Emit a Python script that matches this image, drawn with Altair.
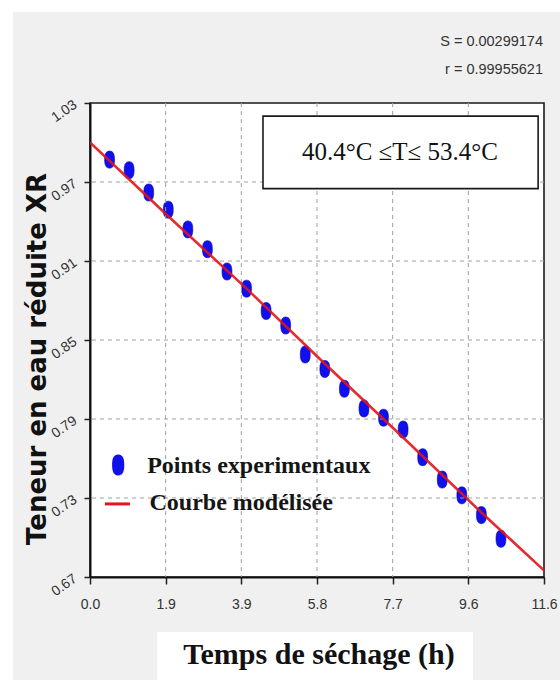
import altair as alt
import pandas as pd

# ---------------- data ----------------
t_exp = [0.5, 1.0, 1.5, 2.0, 2.5, 3.0, 3.5, 4.0, 4.5, 5.0, 5.5,
         6.0, 6.5, 7.0, 7.5, 8.0, 8.5, 9.0, 9.5, 10.0, 10.5]
xr_exp = [0.987, 0.979, 0.962, 0.949, 0.934, 0.919, 0.902, 0.889, 0.872, 0.861, 0.839,
          0.828, 0.813, 0.798, 0.791, 0.782, 0.761, 0.744, 0.732, 0.717, 0.699]

t_model = [0.0, 2.0, 4.0, 6.0, 8.0, 10.0, 11.6]
xr_model = [1.000, 0.944, 0.889, 0.832, 0.776, 0.719, 0.675]

x_major_labels = ["0.0", "1.9", "3.9", "5.8", "7.7", "9.6", "11.6"]
x_grid = [1.9333, 3.8667, 5.8, 7.7333, 9.6667]
y_grid = [0.73, 0.79, 0.85, 0.91, 0.97]
stats_lines = ["S = 0.00299174", "r = 0.99955621"]
range_label = "40.4°C ≤T≤ 53.4°C"
legend_labels = ["Points experimentaux", "Courbe modélisée"]
x_title = "Temps de séchage (h)"
y_title = "Teneur en eau réduite XR"

# annotation box / legend anchor positions (data units)
box_t = [4.42, 11.45]
box_v = [1.020, 0.965]
range_pos = [7.92, 0.9928]
legend_dot = [0.72, 0.755]
legend_line_t = [0.38, 1.02]
legend_line_v = 0.7255
legend_text_t = [1.46, 1.52]
legend_text_v = [0.7545, 0.7262]

X_MAX = 11.6
Y_MIN, Y_MAX = 0.67, 1.03
W, H = 454, 474

x_ticks = [round(i * X_MAX / 24, 4) for i in range(25)]
y_ticks = [round(Y_MIN + i * 0.015, 3) for i in range(25)]

xs = alt.Scale(domain=[0, X_MAX], nice=False, zero=False)
ys = alt.Scale(domain=[Y_MIN, Y_MAX], nice=False, zero=False)

TICK_FONT = "Liberation Sans"
x_idx = f"round(datum.value*24/{X_MAX})"
x_label_expr = " : ".join(f"{x_idx} == {4 * i} ? '{lab}'" for i, lab in enumerate(x_major_labels)) + " : ''"
y_idx = f"round((datum.value-{Y_MIN})/0.015)"
y_label_expr = f"{y_idx} % 4 == 0 ? format(datum.value, '.2f') : ''"

x_axis = alt.Axis(
    values=x_ticks, title=None, labelExpr=x_label_expr, grid=False,
    tickSize=7, tickColor="#222222", tickWidth=1.5,
    domainColor="#111111", domainWidth=2,
    labelFont=TICK_FONT, labelFontSize=14, labelColor="#333333", labelPadding=13,
    labelFlush=False, labelOverlap=False,
)
y_axis = alt.Axis(
    values=y_ticks, title=None, labelExpr=y_label_expr, grid=False,
    tickSize=6, tickColor="#222222", tickWidth=1.5,
    domainColor="#111111", domainWidth=2,
    labelFont=TICK_FONT, labelFontSize=14, labelColor="#333333",
    labelAngle=325, labelAlign="right", labelBaseline="middle", labelPadding=9,
    labelFlush=False, labelOverlap=False,
)

one = pd.DataFrame({"k": [0]})
ELLIPSE = ("M0,-1 C0.5,-1 0.58,-0.5 0.58,0 C0.58,0.5 0.5,1 0,1 "
           "C-0.5,1 -0.58,0.5 -0.58,0 C-0.58,-0.5 -0.5,-1 0,-1 Z")

# outer white frame strips (decoration)
strip_top = alt.Chart(one).mark_rect(color="white").encode(
    x=alt.value(-90), x2=alt.value(W + 20), y=alt.value(-103), y2=alt.value(-91))
strip_left = alt.Chart(one).mark_rect(color="white").encode(
    x=alt.value(-90), x2=alt.value(-77), y=alt.value(-103), y2=alt.value(H + 110))
title_box = alt.Chart(one).mark_rect(color="white").encode(
    x=alt.value(67), x2=alt.value(383), y=alt.value(H + 55), y2=alt.value(H + 110))

exp_df = pd.DataFrame({"t": t_exp, "v": xr_exp})
points = alt.Chart(exp_df).mark_point(
    shape=ELLIPSE, filled=True, size=290, color="#1010ee", opacity=1,
    stroke="#0000b0", strokeWidth=0.6).encode(
    x=alt.X("t:Q", scale=xs, axis=x_axis),
    y=alt.Y("v:Q", scale=ys, axis=y_axis))

gx = alt.Chart(pd.DataFrame({"t": x_grid})).mark_rule(
    color="#a0a0a0", strokeDash=[4, 4], strokeWidth=1).encode(
    x=alt.X("t:Q", scale=xs))
gy = alt.Chart(pd.DataFrame({"v": y_grid})).mark_rule(
    color="#a0a0a0", strokeDash=[4, 4], strokeWidth=1).encode(
    y=alt.Y("v:Q", scale=ys))

box_df = pd.DataFrame({"t": [box_t[0]], "t1": [box_t[1]], "v": [box_v[0]], "v1": [box_v[1]]})
ann_box = alt.Chart(box_df).mark_rect(fill="white", stroke="#1a1a1a", strokeWidth=1.6).encode(
    x=alt.X("t:Q", scale=xs), x2="t1:Q",
    y=alt.Y("v:Q", scale=ys), y2="v1:Q")

mod_df = pd.DataFrame({"t": t_model, "v": xr_model})
line = alt.Chart(mod_df).mark_line(color="#e2141c", strokeWidth=2.6, opacity=0.9, clip=True).encode(
    x=alt.X("t:Q", scale=xs),
    y=alt.Y("v:Q", scale=ys))

range_df = pd.DataFrame({"t": [range_pos[0]], "v": [range_pos[1]], "s": [range_label]})
range_text = alt.Chart(range_df).mark_text(
    font="Liberation Serif", fontSize=25, color="#111111", align="center", baseline="middle").encode(
    x=alt.X("t:Q", scale=xs), y=alt.Y("v:Q", scale=ys), text="s:N")

ldot_df = pd.DataFrame({"t": [legend_dot[0]], "v": [legend_dot[1]]})
leg_dot = alt.Chart(ldot_df).mark_point(
    shape=ELLIPSE, filled=True, size=440, color="#1010ee", opacity=1).encode(
    x=alt.X("t:Q", scale=xs), y=alt.Y("v:Q", scale=ys))

lline_df = pd.DataFrame({"t": legend_line_t, "v": [legend_line_v, legend_line_v]})
leg_line = alt.Chart(lline_df).mark_line(color="#e2141c", strokeWidth=3).encode(
    x=alt.X("t:Q", scale=xs), y=alt.Y("v:Q", scale=ys))

ltext_df = pd.DataFrame({"t": legend_text_t, "v": legend_text_v, "s": legend_labels})
leg_text = alt.Chart(ltext_df).mark_text(
    font="Liberation Serif", fontSize=24, fontWeight="bold", color="#151515",
    align="left", baseline="middle").encode(
    x=alt.X("t:Q", scale=xs), y=alt.Y("v:Q", scale=ys), text="s:N")

stats_s = alt.Chart(pd.DataFrame({"s": [stats_lines[0]]})).mark_text(
    font=TICK_FONT, fontSize=14.5, color="#333333", align="right", baseline="middle").encode(
    x=alt.value(W - 1), y=alt.value(-61), text="s:N")
stats_r = alt.Chart(pd.DataFrame({"s": [stats_lines[1]]})).mark_text(
    font=TICK_FONT, fontSize=14.5, color="#333333", align="right", baseline="middle").encode(
    x=alt.value(W - 1), y=alt.value(-33), text="s:N")

x_title_text = alt.Chart(pd.DataFrame({"s": [x_title]})).mark_text(
    font="Liberation Serif", fontSize=30, fontWeight="bold", color="#111111",
    align="center", baseline="middle").encode(
    x=alt.value(229), y=alt.value(H + 78), text="s:N")

y_title_text = alt.Chart(pd.DataFrame({"s": [y_title]})).mark_text(
    font="DejaVu Sans", fontSize=26, fontWeight="bold", color="#111111",
    align="center", baseline="middle", angle=270).encode(
    x=alt.value(-52), y=alt.value(256), text="s:N")

chart = alt.layer(
    points, strip_top, strip_left, title_box, gx, gy, ann_box, line, range_text,
    leg_dot, leg_line, leg_text, stats_s, stats_r, x_title_text, y_title_text,
).properties(
    width=W, height=H,
    autosize=alt.AutoSizeParams(type="none"),
    padding={"left": 90, "top": 103, "right": 16, "bottom": 103},
    background="#f0f0f0",
).configure_view(
    fill="white", stroke="#1a1a1a", strokeWidth=1.6,
)

chart.save("out.html", embed_options={"renderer": "svg", "actions": False})
